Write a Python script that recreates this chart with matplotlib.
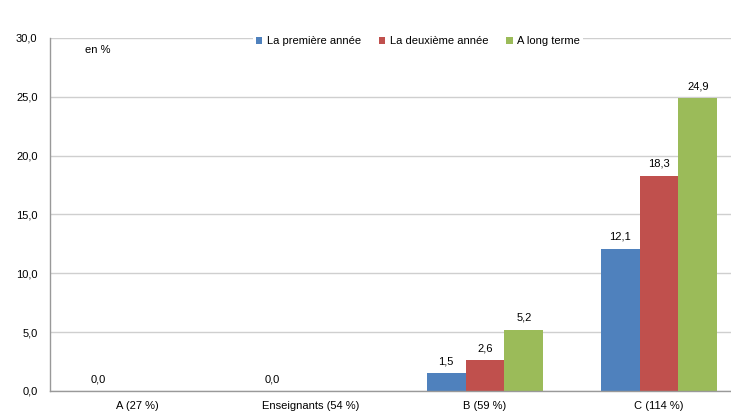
import numpy as np
import matplotlib
matplotlib.use("Agg")
import matplotlib.pyplot as plt
from matplotlib.patches import Patch

plt.rcParams['font.family'] = ['Liberation Sans', 'DejaVu Sans']

categories = ["A (27 %)", "Enseignants (54 %)", "B (59 %)", "C (114 %)"]
series_names = ["La première année", "La deuxième année", "A long terme"]
premiere = [0.0, 0.0, 1.5, 12.1]
deuxieme = [np.nan, np.nan, 2.6, 18.3]
long_terme = [np.nan, np.nan, 5.2, 24.9]
y_ticks = [0, 5, 10, 15, 20, 25, 30]

colors = ["#4F81BD", "#C0504D", "#9BBB59"]
fs = 8

fig = plt.figure(figsize=(7.31, 4.18), dpi=100)
ax = fig.add_axes([50 / 731, 27 / 418, 696 / 731, 353 / 418])

x = np.arange(len(categories))
width = 0.224
values = [premiere, deuxieme, long_terme]
for i, (vals, col) in enumerate(zip(values, colors)):
    pos = x + (i - 1) * width
    v = np.array(vals, dtype=float)
    ax.bar(pos, np.nan_to_num(v), width=width, color=col, zorder=3)
    for p, val in zip(pos, v):
        if not np.isnan(val):
            ax.annotate(f"{val:.1f}".replace(".", ","), (p, val),
                        xytext=(0, 5), textcoords="offset points",
                        ha="center", va="bottom", fontsize=fs, color="#000000")

ax.set_xlim(-0.5, len(categories) - 0.5)
ax.set_ylim(0, 30)
ax.set_yticks(y_ticks)
ax.set_yticklabels([f"{t:.1f}".replace(".", ",") for t in y_ticks], fontsize=fs)
ax.set_xticks(x)
ax.set_xticklabels(categories, fontsize=fs)
ax.tick_params(axis="both", length=0, pad=9)
ax.tick_params(axis="x", pad=7)

ax.grid(axis="y", color="#cfcfcf", linewidth=1.0, zorder=0)
for s in ["top", "right"]:
    ax.spines[s].set_visible(False)
for s in ["left", "bottom"]:
    ax.spines[s].set_color("#999999")
    ax.spines[s].set_linewidth(1.0)
    ax.spines[s].set_zorder(4)

fig.text(85 / 731, 1 - 50 / 418, "en %", fontsize=fs, ha="left", va="center")

handles = [Patch(facecolor=c, edgecolor="none") for c in colors]
leg = fig.legend(handles, series_names, loc="center", ncol=3,
                 bbox_to_anchor=(418 / 731, 1 - 41 / 418), fontsize=fs,
                 frameon=True, handlelength=0.6, handleheight=0.6,
                 handletextpad=0.4, columnspacing=1.6, borderpad=0.25)
leg.get_frame().set_edgecolor("none")
leg.get_frame().set_facecolor("white")
leg.get_frame().set_alpha(1.0)

fig.savefig("out.png", dpi=100)
